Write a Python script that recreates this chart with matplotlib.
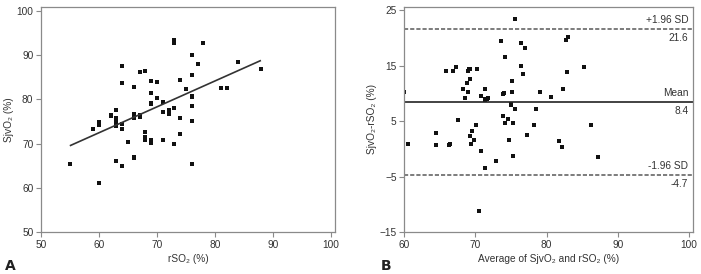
import matplotlib
matplotlib.use("Agg")
import matplotlib.pyplot as plt
from matplotlib import font_manager

fams = {f.name for f in font_manager.fontManager.ttflist}
main = 'Liberation Sans Narrow' if 'Liberation Sans Narrow' in fams else 'Liberation Sans'
plt.rcParams['font.family'] = [main, 'DejaVu Sans']

# Panel A data: rSO2 vs SjvO2
a_x = [55, 59, 60, 60, 60, 62, 62, 63, 63, 63, 63, 63, 64, 64, 64, 64, 64, 65,
       66, 66, 66, 66, 66, 67, 67, 67, 68, 68, 68, 68, 69, 69, 69, 69, 69, 69,
       70, 70, 71, 71, 71, 72, 72, 73, 73, 73, 73, 74, 74, 74, 75, 76, 76, 76,
       76, 76, 76, 76, 77, 78, 81, 82, 84, 88]
a_y = [65.5, 73.2, 74.9, 74.3, 61.1, 76.5, 76.2, 77.5, 75.7, 74.9, 73.9, 66.0,
       87.5, 83.6, 74.4, 73.4, 65.0, 70.4, 82.7, 76.8, 75.8, 67.1, 66.8, 86.1,
       76.5, 76.0, 86.4, 72.6, 71.4, 70.8, 84.1, 81.4, 79.2, 78.9, 70.8, 70.2,
       83.8, 80.4, 79.3, 77.1, 70.9, 77.6, 76.8, 93.4, 92.8, 78.0, 69.9, 84.4,
       75.8, 72.2, 82.3, 90.0, 85.4, 80.8, 80.5, 78.6, 75.0, 65.3, 88.0, 92.8,
       82.6, 82.6, 88.5, 86.8]
fit_x = [55.1, 87.8]
fit_y = [69.6, 88.7]

# Panel B data: Bland-Altman
b_x = [60.0, 60.5, 64.4, 64.4, 65.9, 66.9, 67.3, 66.3, 66.4, 67.5, 68.2, 68.5,
       68.8, 68.9, 69.1, 69.2, 69.0, 69.3, 69.2, 69.5, 69.4, 69.8, 70.2, 70.1,
       70.8, 70.8, 71.3, 71.3, 71.4, 71.6, 71.7, 71.3, 70.5, 72.9, 73.6, 73.8,
       73.9, 74.0, 74.2, 74.2, 74.6, 74.7, 75.0, 75.0, 75.1, 75.1, 75.3, 75.3,
       75.6, 75.6, 76.4, 76.4, 76.7, 77.0, 77.2, 78.2, 78.5, 79.0, 80.6, 81.7,
       82.2, 82.3, 82.7, 83.0, 82.9, 85.3, 86.2, 87.2]
b_y = [10.25, 0.9, 2.8, 0.8, 14.0, 14.1, 14.7, 0.65, 0.9, 5.15, 10.7, 9.2,
       11.8, 14.0, 14.3, 14.4, 10.2, 12.6, 2.4, 3.2, 0.9, 1.6, 14.4, 4.25,
       -0.4, 9.6, 10.7, 9.0, 8.75, 9.0, 9.2, -3.4, -11.1, -2.2, 19.4, 5.9,
       9.9, 10.0, 16.6, 4.7, 5.45, 1.55, 8.15, 7.9, 10.2, 12.3, 4.7, -1.3,
       7.25, 23.4, 19.0, 15.0, 13.5, 18.2, 2.45, 4.4, 7.1, 10.2, 9.3, 1.5,
       0.4, 10.8, 19.6, 20.2, 13.9, 14.7, 4.3, -1.4]
mean_diff = 8.4
upper_loa = 21.6
lower_loa = -4.7

a_xticks = [50, 60, 70, 80, 90, 100]
a_yticks = [50, 60, 70, 80, 90, 100]
b_xticks = [60, 70, 80, 90, 100]
b_yticks = [-15, -5, 5, 15, 25]

txt = '#333333'
spine_c = '#8a8a8a'
fs = 7.3

fig = plt.figure(figsize=(7.01, 2.74), dpi=100)
axA = fig.add_axes([41/701, 1-232.3/274, (335-41)/701, (232.3-6.7)/274])
axB = fig.add_axes([404.3/701, 1-232.3/274, (693.3-404.3)/701, (232.3-6.7)/274])

for ax in (axA, axB):
    for s in ax.spines.values():
        s.set_color(spine_c)
        s.set_linewidth(0.9)
    ax.tick_params(direction='out', length=3.5, width=0.8, color=spine_c,
                   labelsize=fs, labelcolor=txt, pad=2)
    ax.tick_params(top=False, right=False)

# Panel A
axA.plot(a_x, a_y, 's', color='#111111', markersize=2.2, markeredgewidth=0)
axA.plot(fit_x, fit_y, '-', color='#333333', lw=1.2)
axA.set_xlim(50, 100.7)
axA.set_ylim(50, 100.9)
axA.set_xticks(a_xticks)
axA.set_yticks(a_yticks)
axA.set_xlabel('rSO₂ (%)', fontsize=fs, color=txt, labelpad=3)
axA.set_ylabel('SjvO₂ (%)', fontsize=fs, color=txt, labelpad=2)

# Panel B
axB.plot(b_x, b_y, 's', color='#111111', markersize=2.2, markeredgewidth=0)
axB.axhline(mean_diff, color='#222222', lw=1.2)
axB.axhline(upper_loa, color='#666666', lw=1.2, ls=(0, (2.5, 1.2)))
axB.axhline(lower_loa, color='#666666', lw=1.2, ls=(0, (2.5, 1.2)))
axB.set_xlim(60, 100.6)
axB.set_ylim(-15, 25.6)
axB.set_xticks(b_xticks)
axB.set_yticks(b_yticks)
axB.set_xlabel('Average of SjvO₂ and rSO₂ (%)', fontsize=fs, color=txt, labelpad=3)
axB.set_ylabel('SjvO₂-rSO₂ (%)', fontsize=fs, color=txt, labelpad=2)

tx = 99.9
for yv, top, bot in [(upper_loa, '+1.96 SD', f'{upper_loa}'),
                     (mean_diff, 'Mean', f'{mean_diff}'),
                     (lower_loa, '-1.96 SD', f'{lower_loa}')]:
    axB.annotate(top, (tx, yv), xytext=(0, 3), textcoords='offset points',
                 ha='right', va='bottom', fontsize=fs, color=txt)
    axB.annotate(bot, (tx, yv), xytext=(0, -3), textcoords='offset points',
                 ha='right', va='top', fontsize=fs, color=txt)

fig.text(5/701, 1-270/274, 'A', fontsize=10, fontweight='bold', color='#222222',
         family='DejaVu Sans')
fig.text(381/701, 1-270/274, 'B', fontsize=10, fontweight='bold', color='#222222',
         family='DejaVu Sans')

fig.savefig('out.png', dpi=100)
